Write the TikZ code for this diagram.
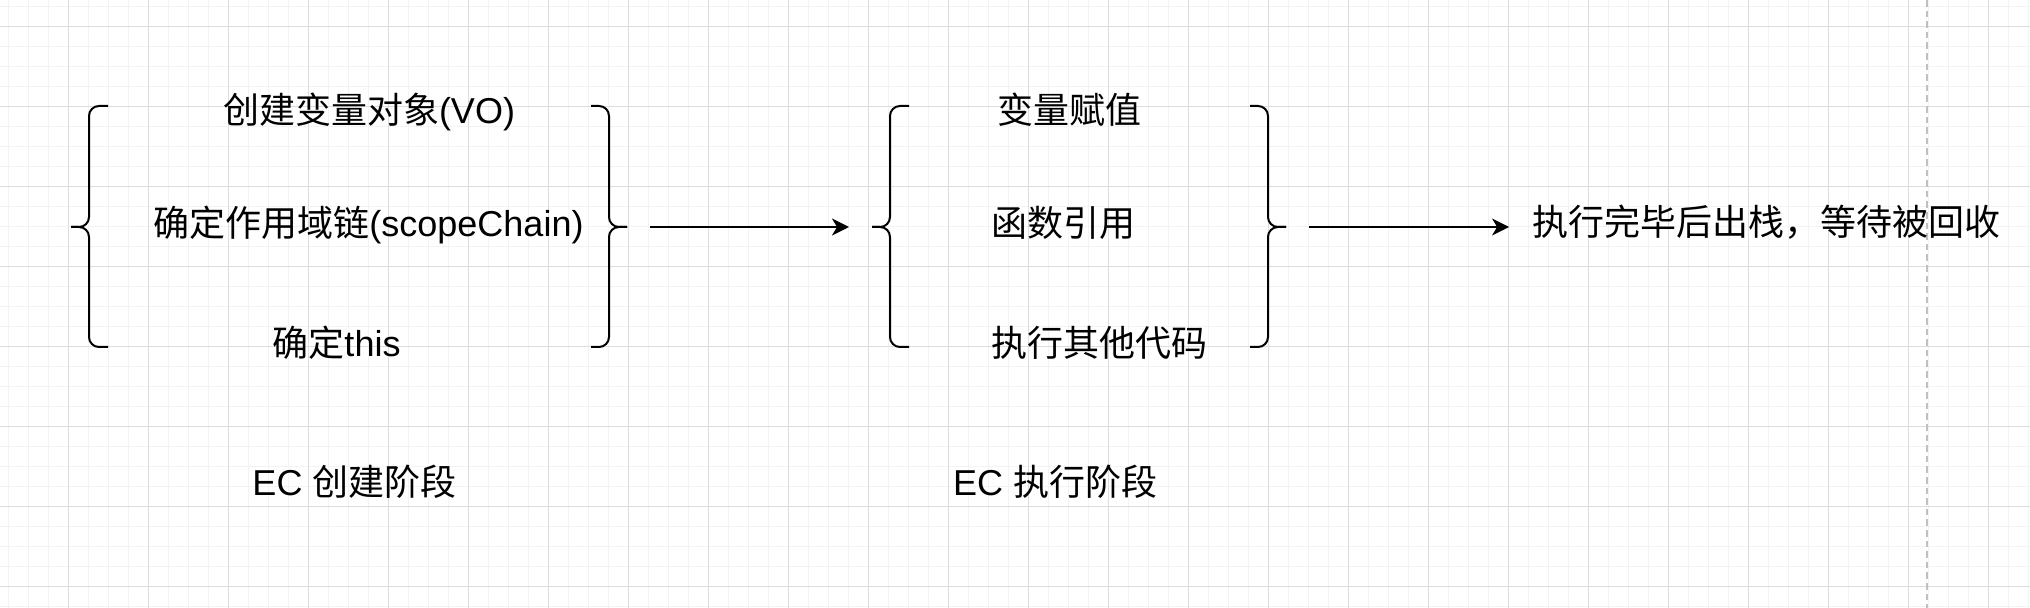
\documentclass[tikz,border=0pt]{standalone}
\usepackage{fontspec}
\setmainfont{Liberation Sans}
\newfontfamily\cjk{Noto Sans CJK SC}
\usetikzlibrary{arrows.meta}
\definecolor{gridmajor}{RGB}{221,221,221}
\definecolor{gridminor}{RGB}{243,243,243}
\definecolor{guide}{RGB}{192,192,192}
\tikzset{
  label text/.style={font=\fontsize{18}{22}\selectfont, anchor=base, inner sep=0pt},
  brace line/.style={line width=1pt, rounded corners=5pt},
  flow/.style={line width=1pt, -{Stealth[length=8.5pt,width=8.5pt,inset=2.5pt]}, shorten <=11.5pt, shorten >=11.5pt},
}
\begin{document}
\begin{tikzpicture}[x=0.5pt,y=-0.5pt]
\useasboundingbox (0,0) rectangle (2030,608);
\fill[white] (0,0) rectangle (2030,608);
% background grid
\foreach \x in {8,28,...,2028} \draw[gridminor, line width=0.5pt] (\x,0) -- (\x,608);
\foreach \y in {6.5,26.5,...,606.5} \draw[gridminor, line width=0.5pt] (0,\y) -- (2030,\y);
\foreach \x in {68,148,...,2028} \draw[gridmajor, line width=0.5pt] (\x,0) -- (\x,608);
\foreach \y in {26.5,106.5,...,586.5} \draw[gridmajor, line width=0.5pt] (0,\y) -- (2030,\y);
% page guide
\draw[guide, line width=1pt, dash pattern=on 3.3pt off 2pt] (1927,0) -- (1927,608);

% braces: left tip / right tip
\foreach \l/\r [count=\i] in {71/627, 872/1286} {
  \draw[brace line] (\l+37,106) -| (\l+18,227) -- (\l,227);
  \draw[brace line] (\l+37,347) -| (\l+18,227) -- (\l,227);
  \draw[brace line] (\r-36,106) -| (\r-18,227) -- (\r,227);
  \draw[brace line] (\r-36,347) -| (\r-18,227) -- (\r,227);
  \coordinate (lb\i) at (\l,227);
  \coordinate (rb\i) at (\r,227);
}

% creation phase
\node[label text] (vo) at (369,123.5) {{\cjk 创建变量对象}(VO)};
\node[label text] (chain) at (368.5,236.5) {{\cjk 确定作用域链}(scopeChain)};
\node[label text] (this) at (336.5,356.5) {{\cjk 确定}this};
\node[label text] (createlbl) at (354.5,495.5) {EC {\cjk 创建阶段}};

% execution phase
\node[label text] (assign) at (1069,123.5) {\cjk 变量赋值};
\node[label text] (funcref) at (1063.5,236.5) {\cjk 函数引用};
\node[label text] (othercode) at (1099.5,356.5) {\cjk 执行其他代码};
\node[label text] (execlbl) at (1055,495.5) {EC {\cjk 执行阶段}};

\node[label text] (done) at (1766.5,235.5) {\cjk 执行完毕后出栈，等待被回收};

\draw[flow] (rb1) -- (lb2);
\draw[flow] (rb2) -- (rb2 -| done.west);
\end{tikzpicture}
\end{document}
